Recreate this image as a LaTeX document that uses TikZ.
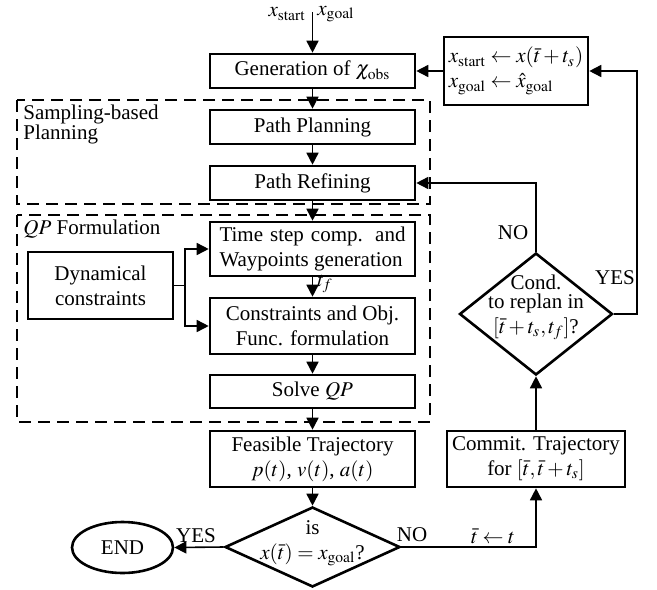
\documentclass[tikz,border=0pt]{standalone}
\usepackage{mathptmx}
\usepackage{fontspec}
\setmainfont{Liberation Serif}
\usetikzlibrary{arrows.meta,shapes.geometric}
\begin{document}
\begin{tikzpicture}[x=0.5pt,y=-0.5pt, font=\fontsize{10.5}{12.5}\selectfont,
 box/.style={draw, line width=1.3pt, align=center, inner sep=1pt},
 dia/.style={draw, diamond, line width=1.3pt, inner sep=0pt},
 conn/.style={line width=0.8pt, -{Triangle[length=6pt,width=6pt]}},
 plain/.style={line width=0.8pt},
 grp/.style={draw, line width=1pt, dash pattern=on 6pt off 3.5pt},
 lbl/.style={inner sep=1pt}]
\useasboundingbox (0,0) rectangle (657,589);
% groups
\draw[grp] (17,100) rectangle (430,204);
\draw[grp] (17,215) rectangle (430,422);
\node[lbl, anchor=north west, align=left] (sbl) at (21,103) {Sampling-based\\[-2.5pt]Planning};
\node[lbl, anchor=north west] (qpl) at (21,218) {$QP$ Formulation};
% main column
\coordinate (in) at (312.5,12);
\node[lbl, anchor=east] (xs) at (308,14) {$x_{\mathrm{start}}$};
\node[lbl, anchor=west] (xg) at (315,14) {$x_{\mathrm{goal}}$};
\node[box, minimum width=102.5pt, minimum height=17pt] (gen) at (312.5,71) {Generation of $\chi_{\mathrm{obs}}$};
\node[box, minimum width=102.5pt, minimum height=17pt] (plan) at (312.5,127) {Path Planning};
\node[box, minimum width=102.5pt, minimum height=17pt] (ref) at (312.5,183) {Path Refining};
\node[box, minimum width=102.5pt, minimum height=27pt] (ts) at (312.5,249) {\parbox{93pt}{Time step comp. and\linebreak Waypoints generation}};
\node[box, minimum width=102.5pt, minimum height=28pt] (con) at (312.5,326) {Constraints and Obj.\\Func. formulation};
\node[box, minimum width=102.5pt, minimum height=16.5pt] (sol) at (312.5,391.5) {Solve $QP$};
\node[box, minimum width=102.5pt, minimum height=28pt] (feas) at (312.5,459) {Feasible Trajectory\\$p(t)$, $v(t)$, $a(t)$};
\node[dia, minimum width=87.5pt, minimum height=40pt] (isd) at (312.5,547) {};
\node[lbl, align=center] (isdt) at (312.5,543) {is\\$x(\bar t)=x_{\mathrm{goal}}$?};
\node[draw, ellipse, line width=1.3pt, minimum width=50.5pt, minimum height=25.5pt, inner sep=0pt] (end) at (122.5,547.5) {END};
\node[box, minimum width=72.5pt, minimum height=33.5pt] (dyn) at (100.5,285.5) {Dynamical\\constraints};
\node[lbl, anchor=west] (tf) at (315,284) {$t_f$};
% right column
\node[box, minimum width=72pt, minimum height=34pt, align=left] (upd) at (516,71) {$x_{\mathrm{start}}\leftarrow x(\bar t+t_s)$\\$x_{\mathrm{goal}}\leftarrow \hat{x}_{\mathrm{goal}}$};
\node[dia, minimum width=76.5pt, minimum height=61pt] (cond) at (536,314) {};
\node[lbl, align=center] (condt) at (536,307) {Cond.\\[-3pt]to replan in\\$[\bar t+t_s,t_f]$?};
\node[box, minimum width=89pt, minimum height=28pt] (com) at (536,459) {Commit. Trajectory\\for $[\bar t,\bar t+t_s]$};
% connectors
\draw[conn] (in) -- (gen);
\draw[conn] (gen) -- (plan);
\draw[conn] (plan) -- (ref);
\draw[conn] (ref) -- (ts);
\draw[conn] (ts) -- (con);
\draw[conn] (con) -- (sol);
\draw[conn] (sol) -- (feas);
\draw[conn] (feas) -- (isd.north);
\coordinate (br) at (185,285.5);
\draw[plain] (dyn.east) -- (br);
\draw[conn] (br) |- (ts.west);
\draw[conn] (br) |- (con.west);
\draw[conn] (isd.west) -- (end.east);
\node[lbl] (yes1) at (196,536) {YES};
\draw[conn] (isd.east) -| (com.south);
\node[lbl] (no1) at (412,535) {NO};
\node[lbl] (tup) at (493,536) {$\bar t\leftarrow t$};
\draw[conn] (com.north) -- (cond.south);
\draw[conn] (cond.north) |- (ref.east);
\node[lbl] (no2) at (513,233) {NO};
\coordinate (rr) at (637,314);
\draw[conn] (cond.east) -- (rr) |- (upd.east);
\node[lbl] (yes2) at (615,278) {YES};
\draw[conn] (upd.west) -- (gen.east);
\end{tikzpicture}
\end{document}
